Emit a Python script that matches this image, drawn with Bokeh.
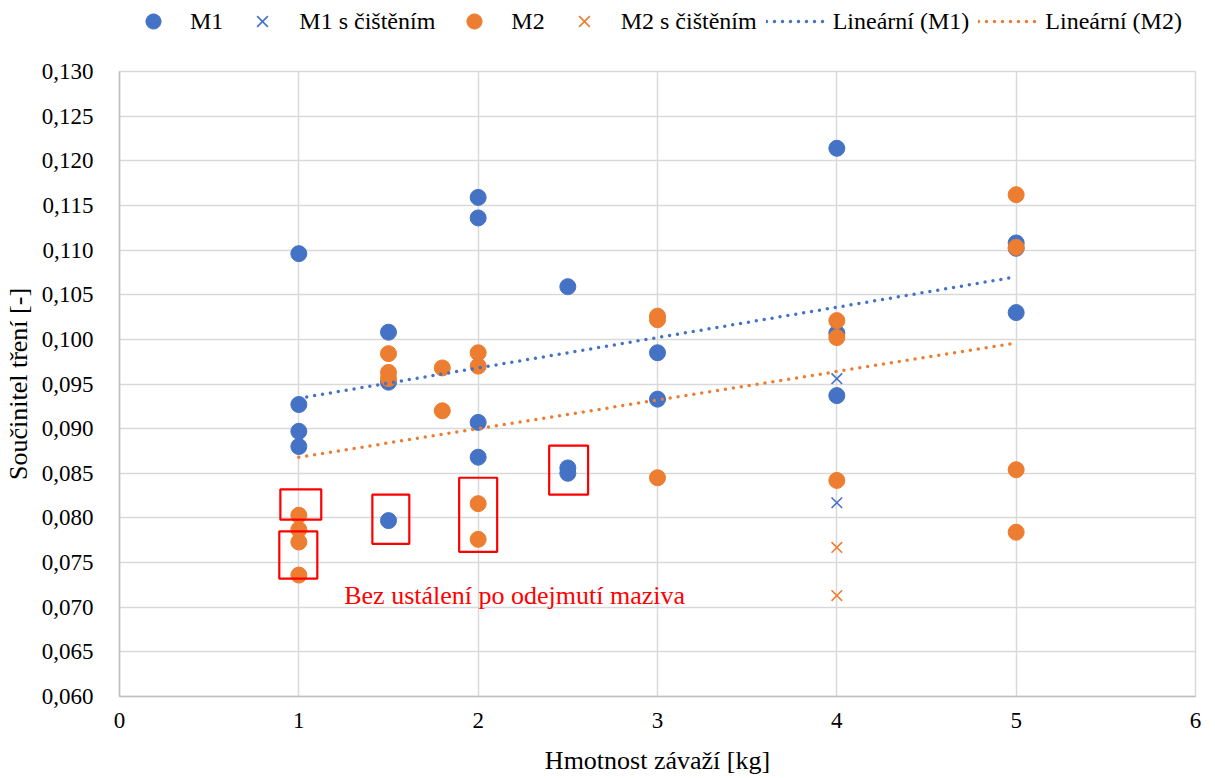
from bokeh.plotting import figure
from bokeh.layouts import column
from bokeh.models import (ColumnDataSource, Legend, LegendItem, FixedTicker, Range1d)
from bokeh.core.properties import value
from bokeh.embed import file_html
from bokeh.resources import INLINE

# ---- data ----
m1_x = [1, 1, 1, 1, 1.5, 1.5, 1.5, 2, 2, 2, 2, 2.5, 2.5, 2.5, 3, 3, 4, 4, 4, 5, 5, 5]
m1_y = [0.1096, 0.0927, 0.0897, 0.0880, 0.1008, 0.0952, 0.0797, 0.1159, 0.1136, 0.0907,
        0.0868, 0.1059, 0.0856, 0.0850, 0.0985, 0.0933, 0.1214, 0.1007, 0.0937, 0.1108,
        0.1102, 0.1030]
m1c_x = [4, 4]
m1c_y = [0.0956, 0.0817]
m2_x = [1, 1, 1, 1, 1.5, 1.5, 1.5, 1.8, 1.8, 2, 2, 2, 2, 3, 3, 3, 4, 4, 4, 5, 5, 5, 5]
m2_y = [0.0803, 0.0787, 0.0773, 0.0736, 0.0984, 0.0963, 0.0956, 0.0968, 0.0920, 0.0985,
        0.0970, 0.0816, 0.0776, 0.1026, 0.1022, 0.0845, 0.1021, 0.1002, 0.0842, 0.1162,
        0.1103, 0.0854, 0.0784]
m2c_x = [4, 4]
m2c_y = [0.0767, 0.0713]
trend_x = [1, 5]
trend_m1 = [0.0934, 0.1070]
trend_m2 = [0.0868, 0.0996]

# annotation boxes (left, right, bottom, top) in data units
box_left = [0.897, 0.891, 1.41, 1.894, 2.396]
box_right = [1.125, 1.103, 1.616, 2.106, 2.613]
box_bottom = [0.0798, 0.0732, 0.0771, 0.0762, 0.0826]
box_top = [0.0832, 0.0785, 0.0826, 0.0845, 0.0881]
note_text = ["Bez ustálení po odejmutí maziva"]
note_x = [1.253]
note_y = [0.0713]

legend_labels = ["M1", "M1 s čištěním", "M2", "M2 s čištěním", "Lineární (M1)", "Lineární (M2)"]
x_ticks = [0, 1, 2, 3, 4, 5, 6]
y_ticks = [0.060, 0.065, 0.070, 0.075, 0.080, 0.085, 0.090, 0.095, 0.100, 0.105,
           0.110, 0.115, 0.120, 0.125, 0.130]

BLUE = "#4472C4"
ORANGE = "#ED7D31"
RED = "#FF0000"
GRID = "#d9d9d9"
FONT = "Liberation Serif"

src_m1 = ColumnDataSource(dict(x=m1_x, y=m1_y))
src_m1c = ColumnDataSource(dict(x=m1c_x, y=m1c_y))
src_m2 = ColumnDataSource(dict(x=m2_x, y=m2_y))
src_m2c = ColumnDataSource(dict(x=m2c_x, y=m2c_y))
src_t1 = ColumnDataSource(dict(x=trend_x, y=trend_m1))
src_t2 = ColumnDataSource(dict(x=trend_x, y=trend_m2))

circle_style = dict(marker="circle", size=16)
x_style = dict(marker="x", size=15, line_width=1.6)
trend_style = dict(line_width=3.5, line_dash="0 8", line_cap="round")

# ---- main chart ----
p = figure(width=1215, height=718, output_backend="svg", toolbar_location=None,
           x_range=Range1d(0, 6), y_range=Range1d(0.060, 0.130),
           min_border_left=118, min_border_right=20, min_border_top=11, min_border_bottom=82)
p.outline_line_color = GRID
p.outline_line_width = 1.5
p.background_fill_color = "white"
p.border_fill_color = "white"

for ax in (p.xaxis[0], p.yaxis[0]):
    ax.axis_line_color = "#bfbfbf"
    ax.axis_line_width = 1.5
    ax.major_tick_line_color = None
    ax.minor_tick_line_color = None
    ax.major_label_text_font = FONT
    ax.major_label_text_font_size = "23px"
    ax.major_label_text_color = "#000000"
    ax.axis_label_text_font = FONT
    ax.axis_label_text_font_size = "26px"
    ax.axis_label_text_font_style = "normal"
    ax.axis_label_text_color = "#000000"

p.xaxis.ticker = FixedTicker(ticks=x_ticks)
p.yaxis.ticker = FixedTicker(ticks=y_ticks)
p.xaxis.major_label_overrides = {t: str(t) for t in x_ticks}
p.yaxis.major_label_overrides = {t: ("%.3f" % t).replace(".", ",") for t in y_ticks}
p.xaxis.major_label_standoff = 10
p.yaxis.major_label_standoff = 20
p.xaxis.axis_label = "Hmotnost závaží [kg]"
p.yaxis.axis_label = "Součinitel tření [-]"
p.xaxis.axis_label_standoff = 15
p.yaxis.axis_label_standoff = 6

p.xgrid.ticker = FixedTicker(ticks=x_ticks)
p.ygrid.ticker = FixedTicker(ticks=y_ticks)
p.xgrid.grid_line_color = GRID
p.ygrid.grid_line_color = GRID
p.xgrid.grid_line_width = 1.5
p.ygrid.grid_line_width = 1.5

p.scatter("x", "y", source=src_m1, fill_color=BLUE, line_color=BLUE, **circle_style)
p.scatter("x", "y", source=src_m1c, line_color=BLUE, **x_style)
p.scatter("x", "y", source=src_m2, fill_color=ORANGE, line_color=ORANGE, **circle_style)
p.scatter("x", "y", source=src_m2c, line_color=ORANGE, **x_style)
p.line("x", "y", source=src_t1, line_color=BLUE, **trend_style)
p.line("x", "y", source=src_t2, line_color=ORANGE, **trend_style)

box_src = ColumnDataSource(dict(left=box_left, right=box_right, bottom=box_bottom, top=box_top))
p.quad(left="left", right="right", bottom="bottom", top="top", source=box_src,
       fill_color=None, line_color=RED, line_width=2.2)

p.text(x=note_x, y=note_y, text=note_text, text_font=value(FONT), text_font_size="26px",
       text_color=RED, text_baseline="alphabetic", text_align="left")

# ---- legend strip on top (same series and styles, data kept out of view) ----
top = figure(width=1215, height=60, output_backend="svg", toolbar_location=None,
             x_range=Range1d(100, 101), y_range=Range1d(100, 101),
             x_axis_type=None, y_axis_type=None, min_border=0)
top.outline_line_color = None
top.background_fill_color = "white"
top.border_fill_color = "white"
top.xgrid.visible = False
top.ygrid.visible = False

l_m1 = top.scatter("x", "y", source=src_m1, fill_color=BLUE, line_color=BLUE, **circle_style)
l_m1c = top.scatter("x", "y", source=src_m1c, line_color=BLUE, **x_style)
l_m2 = top.scatter("x", "y", source=src_m2, fill_color=ORANGE, line_color=ORANGE, **circle_style)
l_m2c = top.scatter("x", "y", source=src_m2c, line_color=ORANGE, **x_style)
l_t1 = top.line("x", "y", source=src_t1, line_color=BLUE, **trend_style)
l_t2 = top.line("x", "y", source=src_t2, line_color=ORANGE, **trend_style)

legend = Legend(items=[LegendItem(label=lab, renderers=[r]) for lab, r in
                       zip(legend_labels, [l_m1, l_m1c, l_m2, l_m2c, l_t1, l_t2])],
                orientation="horizontal", location=(4, 20))
legend.label_text_font = FONT
legend.label_text_font_size = "24px"
legend.label_text_color = "#000000"
legend.glyph_width = 60
legend.glyph_height = 38
legend.label_standoff = 7
legend.spacing = 9
legend.padding = 0
legend.margin = 0
legend.border_line_color = None
legend.background_fill_alpha = 0
top.add_layout(legend, "center")

page = column(top, p, spacing=0)
open("out.html", "w").write(file_html(page, INLINE))
